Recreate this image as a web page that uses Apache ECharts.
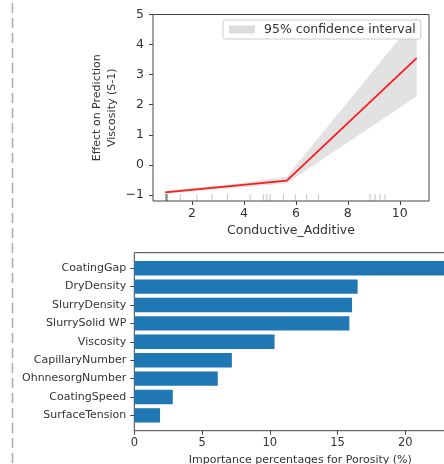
<!DOCTYPE html>
<html>
<head>
<meta charset="utf-8">
<script src="https://cdn.jsdelivr.net/npm/echarts@6/dist/echarts.min.js"></script>
<style>
html, body { margin: 0; padding: 0; background: #fff; }
#chart { width: 444px; height: 464px; }
</style>
</head>
<body>
<div id="chart"></div>
<script>
// Partial dependence of Viscosity on Conductive_Additive
const pdpX = [0.97, 5.65, 10.65];
const pdpY = [-0.91, -0.52, 3.55];

// 95% confidence band around the partial dependence curve
const ciX    = [0.97, 3.3, 5.65, 10.65];
const ciLow  = [-0.95, -0.79, -0.61, 2.28];
const ciHigh = [-0.86, -0.67, -0.39, 4.9];

// Observed Conductive_Additive values (rug)
const rugX = [1.0, 1.0, 1.0, 1.04, 1.04, 1.04, 1.55, 2.19, 2.77, 3.37, 4.24, 4.75, 4.88, 5.01,
              5.52, 5.98, 6.42, 6.87, 8.86, 9.05, 9.24, 9.43];

const topXTicks = [2, 4, 6, 8, 10];
const topYTicks = [-1, 0, 1, 2, 3, 4, 5];

// Feature importance for Porosity (%)
const features = ['CoatingGap', 'DryDensity', 'SlurryDensity', 'SlurrySolid WP', 'Viscosity',
                  'CapillaryNumber', 'OhnnesorgNumber', 'CoatingSpeed', 'SurfaceTension'];
const importance = [23.3, 16.48, 16.07, 15.87, 10.35, 7.2, 6.16, 2.84, 1.9];

const FONT = 'DejaVu Sans';
const TXT = '#333';
const SPINE = '#444';

const minusFmt = v => (v < 0 ? '\u2212' + Math.abs(v) : String(v));

const chart = echarts.init(document.getElementById('chart'), null, { renderer: 'canvas' });

chart.setOption({
  animation: false,
  backgroundColor: '#fff',
  textStyle: { fontFamily: FONT },
  graphic: [{
    type: 'line',
    shape: { x1: 12.5, y1: 3, x2: 12.5, y2: 464 },
    style: { stroke: '#aaa', lineWidth: 1.5, lineDash: [10, 5] },
    silent: true
  }],
  legend: {
    left: 223, top: 20,
    padding: [3, 5, 3, 6],
    backgroundColor: 'rgba(255,255,255,0.85)',
    borderColor: '#ccc', borderWidth: 1, borderRadius: 2,
    itemWidth: 26, itemHeight: 8,
    selectedMode: false,
    textStyle: { fontFamily: FONT, fontSize: 12.5, color: TXT, padding: [0, 0, 0, 4] },
    data: [{ name: '95% confidence interval', icon: 'rect', itemStyle: { color: '#dcdcdc' } }]
  },
  grid: [
    { left: 153, top: 14.5, width: 276, height: 186.5, show: true, borderColor: SPINE, borderWidth: 1,
      backgroundColor: 'transparent', outerBoundsMode: 'none', containLabel: false },
    { left: 134.3, top: 252.7, width: 332, height: 178, show: true, borderColor: SPINE, borderWidth: 1,
      backgroundColor: 'transparent', outerBoundsMode: 'none', containLabel: false },
    { left: 134.3, top: 259, width: 332, height: 165.6, outerBoundsMode: 'none', containLabel: false }
  ],
  xAxis: [
    {
      type: 'value', gridIndex: 0, min: 0.5, max: 11.125,
      axisLine: { show: false, onZero: false }, splitLine: { show: false },
      axisTick: { show: true, length: 4, customValues: topXTicks, lineStyle: { color: SPINE } },
      axisLabel: { customValues: topXTicks, fontSize: 12.5, color: TXT, margin: 6, fontFamily: FONT },
      name: 'Conductive_Additive', nameLocation: 'middle', nameGap: 23, nameMoveOverlap: false,
      nameTextStyle: { fontSize: 12.5, color: TXT, fontFamily: FONT }
    },
    {
      type: 'value', gridIndex: 1, min: 0, max: 24.5, interval: 5,
      axisLine: { show: false, onZero: false }, splitLine: { show: false },
      axisTick: { show: true, length: 4, lineStyle: { color: SPINE } },
      axisLabel: { fontSize: 11.5, color: TXT, margin: 6, fontFamily: FONT, showMaxLabel: false },
      name: 'Importance percentages for Porosity (%)', nameLocation: 'middle', nameGap: 24, nameMoveOverlap: false,
      nameTextStyle: { fontSize: 11, color: TXT, fontFamily: FONT }
    },
    {
      type: 'value', gridIndex: 2, min: 0, max: 24.5, show: false
    }
  ],
  yAxis: [
    {
      type: 'value', gridIndex: 0, min: -1.2, max: 5,
      axisLine: { show: false, onZero: false }, splitLine: { show: false },
      axisTick: { show: true, length: 4, customValues: topYTicks, lineStyle: { color: SPINE } },
      axisLabel: { customValues: topYTicks, formatter: minusFmt, fontSize: 12.5, color: TXT, margin: 9, fontFamily: FONT },
      name: 'Effect on Prediction\nViscosity (S-1)', nameLocation: 'middle', nameGap: 33, nameRotate: 90,
      nameMoveOverlap: false,
      nameTextStyle: { fontSize: 11, color: TXT, fontFamily: FONT, lineHeight: 15 }
    },
    {
      type: 'value', gridIndex: 1, min: 0, max: 1, show: false
    },
    {
      type: 'category', gridIndex: 2, data: features, inverse: true,
      axisLine: { show: false },
      axisTick: { show: true, alignWithLabel: true, length: 4, lineStyle: { color: SPINE } },
      axisLabel: { fontSize: 11, color: TXT, margin: 8, fontFamily: FONT },
      splitLine: { show: false }
    }
  ],
  series: [
    {
      name: '95% confidence interval',
      type: 'custom',
      xAxisIndex: 0, yAxisIndex: 0,
      itemStyle: { color: '#dcdcdc' },
      data: ciX.map((x, i) => [x, ciLow[i], ciHigh[i]]),
      encode: { x: 0, y: [1, 2] },
      renderItem: function (params, api) {
        if (params.dataIndex !== 0) return null;
        const upper = ciX.map((x, i) => api.coord([x, ciHigh[i]]));
        const lower = ciX.map((x, i) => api.coord([x, ciLow[i]])).reverse();
        return {
          type: 'polygon',
          shape: { points: upper.concat(lower) },
          style: { fill: '#e2e2e2' },
          z2: 1
        };
      },
      z: 1
    },
    {
      name: 'rug',
      type: 'custom',
      xAxisIndex: 0, yAxisIndex: 0,
      data: rugX.map(x => [x, -1.2]),
      encode: { x: 0, y: 1 },
      renderItem: function (params, api) {
        const p = api.coord([api.value(0), api.value(1)]);
        return {
          type: 'line',
          shape: { x1: p[0], y1: p[1], x2: p[0], y2: p[1] - 7 },
          style: { stroke: 'rgba(60,60,60,0.3)', lineWidth: 1 }
        };
      },
      z: 2
    },
    {
      name: 'partial dependence',
      type: 'line',
      xAxisIndex: 0, yAxisIndex: 0,
      data: pdpX.map((x, i) => [x, pdpY[i]]),
      symbol: 'none',
      lineStyle: { color: '#ff1a1a', width: 1.8 },
      z: 3
    },
    {
      name: 'importance',
      type: 'bar',
      xAxisIndex: 2, yAxisIndex: 2,
      data: importance,
      barWidth: '78%',
      itemStyle: { color: '#1f77b4' }
    }
  ]
});
</script>
</body>
</html>
